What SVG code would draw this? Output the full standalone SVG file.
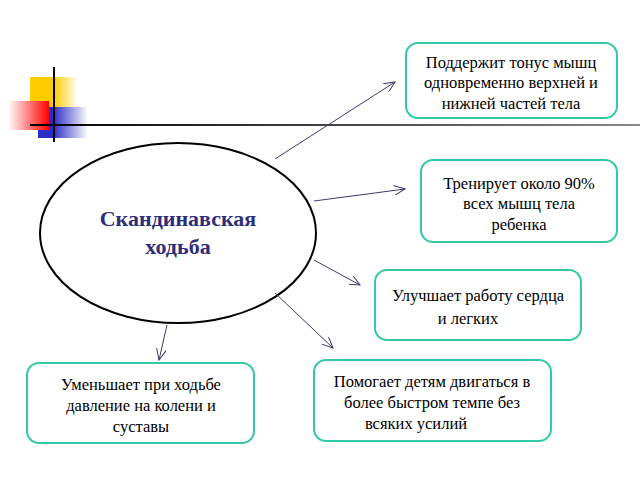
<svg xmlns="http://www.w3.org/2000/svg" width="640" height="480" viewBox="0 0 640 480">
<style>
.box{fill:#fff;stroke:#33c9a6;stroke-width:2}
.t{font-family:'Liberation Serif','Times New Roman','DejaVu Serif',serif;font-size:16.5px;fill:#000;text-anchor:middle}
.h{font-family:'Liberation Serif','Times New Roman','DejaVu Serif',serif;font-size:22px;font-weight:bold;fill:#2e2e78;text-anchor:middle}
.c{stroke:#3c3c6e;stroke-width:1;fill:none;marker-end:url(#a)}
</style>
<defs>
<marker id="a" markerWidth="12" markerHeight="10" refX="11" refY="5" orient="auto" markerUnits="userSpaceOnUse"><path d="M0,0 L11,5 L0,10" fill="none" stroke="#3c3c6e" stroke-width="1"/></marker>
<linearGradient id="gy"><stop offset="0.5" stop-color="#ffcc00"/><stop offset="1" stop-color="#fff"/></linearGradient>
<linearGradient id="gr"><stop offset="0" stop-color="#fff"/><stop offset="1" stop-color="#ff0000"/></linearGradient>
<linearGradient id="gb"><stop offset="0.3" stop-color="#2b2bc8"/><stop offset="1" stop-color="#fff"/></linearGradient>
<linearGradient id="gl"><stop offset="0" stop-color="#000"/><stop offset="1" stop-color="#888"/></linearGradient>
</defs>
<g id="decor">
<rect x="30" y="77" width="48" height="31" fill="url(#gy)"/>
<rect x="38" y="107" width="50" height="31" fill="url(#gb)"/>
<rect x="8" y="101" width="41" height="29" fill="url(#gr)"/>
<line x1="54" y1="67" x2="54" y2="142" stroke="#000" stroke-width="2"/>
<rect x="30" y="124" width="610" height="2" fill="url(#gl)"/>
</g>
<g id="center">
<ellipse cx="178" cy="233" rx="138" ry="90" fill="#fff" stroke="#000" stroke-width="2"/>
<text class="h" x="178" y="226">Скандинавская</text>
<text class="h" x="178" y="254">ходьба</text>
</g>
<g id="connectors">
<line class="c" x1="275" y1="159" x2="395" y2="82"/>
<line class="c" x1="314" y1="201" x2="405" y2="189"/>
<line class="c" x1="314" y1="260" x2="360" y2="285"/>
<line class="c" x1="275" y1="293" x2="333" y2="348"/>
<line class="c" x1="167" y1="325" x2="159" y2="360"/>
</g>
<g id="n1"><rect class="box" x="406" y="43" width="211" height="75" rx="12"/>
<text class="t" x="511" y="68">Поддержит тонус мышц</text><text class="t" x="511" y="88">одновременно верхней и</text><text class="t" x="511" y="109">нижней частей тела</text></g>
<g id="n2"><rect class="box" x="421" y="160" width="196" height="82" rx="12"/>
<text class="t" x="519" y="189">Тренирует около 90%</text><text class="t" x="519" y="209">всех мышц тела</text><text class="t" x="519" y="230">ребенка</text></g>
<g id="n3"><rect class="box" x="375" y="270" width="206" height="70" rx="12"/>
<text class="t" x="478" y="301">Улучшает работу сердца</text><text class="t" x="468" y="324">и легких</text></g>
<g id="n4"><rect class="box" x="314" y="360" width="237" height="81" rx="12"/>
<text class="t" x="432" y="387">Помогает детям двигаться в</text><text class="t" x="432" y="408">более быстром темпе без</text><text class="t" x="416" y="429">всяких усилий</text></g>
<g id="n5"><rect class="box" x="27" y="363" width="227" height="80" rx="12"/>
<text class="t" x="141" y="390">Уменьшает при ходьбе</text><text class="t" x="141" y="411">давление на колени и</text><text class="t" x="141" y="432">суставы</text></g>
</svg>
